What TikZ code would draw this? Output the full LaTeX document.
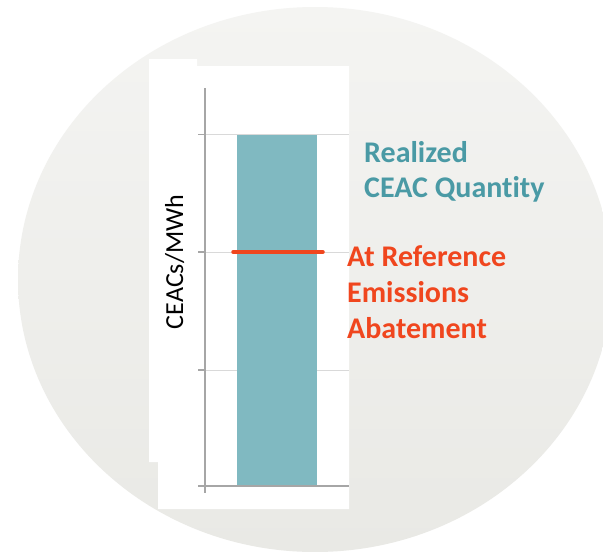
\documentclass[tikz,border=0pt]{standalone}
\usepackage{fontspec}
\setmainfont{Carlito}[Ligatures={NoCommon,NoContextual}]
\definecolor{bgtop}{HTML}{F4F4F2}
\definecolor{bgbot}{HTML}{E9E9E5}
\definecolor{barteal}{HTML}{80B9C1}
\definecolor{txteal}{HTML}{4A9AA5}
\definecolor{refred}{HTML}{F0461E}
\definecolor{gridgray}{HTML}{D9D9D9}
\definecolor{axisgray}{HTML}{A6A6A6}
\tikzset{
  bigtxt/.style={inner sep=0pt, anchor=base west, font=\fontsize{30}{36}\selectfont\bfseries},
  gridline/.style={draw=gridgray, line width=1pt},
  axisline/.style={draw=axisgray, line width=1.3pt},
}
\begin{document}
\begin{tikzpicture}[x=1pt,y=-1pt]
\useasboundingbox (0,0) rectangle (603,552);
\fill[white] (0,0) rectangle (603,552);
% background ellipse
\shade[top color=bgtop, bottom color=bgbot] (315,279.5) ellipse [x radius=297pt, y radius=272.5pt];
% white chart area
\fill[white] (149,59) -- (197,59) -- (197,66) -- (349,66) -- (349,509) -- (158,509) -- (158,462) -- (149,462) -- cycle;
% gridlines
\coordinate (g1l) at (198,134.5); \coordinate (g1r) at (349,134.5);
\coordinate (g2l) at (198,252);   \coordinate (g2r) at (349,252);
\coordinate (g3l) at (198,370);   \coordinate (g3r) at (349,370);
\coordinate (g4l) at (198,486);   \coordinate (g4r) at (349,486);
\draw[gridline] (g1l) -- (g1r);
\draw[gridline] (g2l) -- (g2r);
\draw[gridline] (g3l) -- (g3r);
% bar
\fill[barteal] (237,134.5) rectangle (317,486);
% axes
\coordinate (ytop) at (205,88);
\coordinate (ybot) at (205,493);
\draw[axisline] (ytop) -- (ybot);
\draw[axisline] (g4l) -- (g4r);
\draw[axisline] (g1l) -- (205,134.5);
\draw[axisline] (g2l) -- (205,252);
\draw[axisline] (g3l) -- (205,370);
% reference line
\coordinate (rl) at (233,252);
\coordinate (rr) at (323,252);
\draw[refred, line width=3.5pt, line cap=round] (rl) -- (rr);
% labels
\node[rotate=90, anchor=base, inner sep=0pt, font=\fontsize{26}{30}\selectfont] (ylab) at (183,262) {CEACs/MWh};
\node[bigtxt, text=txteal] (real1) at (364,162) {Realized};
\node[bigtxt, text=txteal] (real2) at (364,197) {CEAC Quantity};
\node[bigtxt, text=refred] (ref1) at (347,266) {At Reference};
\node[bigtxt, text=refred] (ref2) at (347,302) {Emissions};
\node[bigtxt, text=refred] (ref3) at (347,338) {Abatement};
\end{tikzpicture}
\end{document}
